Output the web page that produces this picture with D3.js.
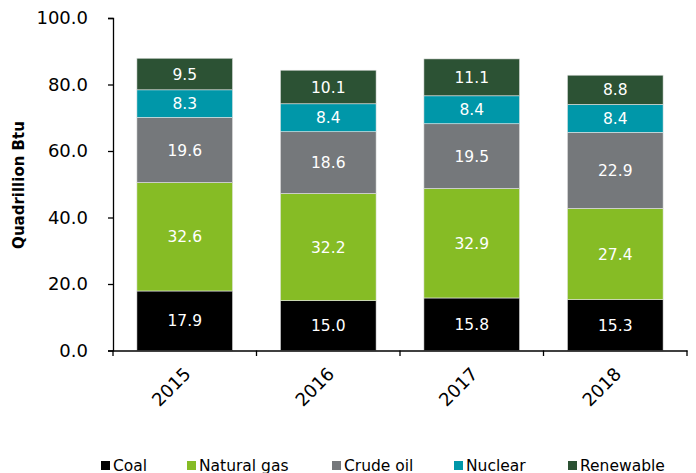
<!DOCTYPE html>
<html><head><meta charset="utf-8">
<script src="https://cdn.jsdelivr.net/npm/d3@7"></script>
<style>body{margin:0;background:#fff;} svg{display:block;font-family:"DejaVu Sans",Verdana,sans-serif;}</style>
</head><body>
<script>
const years = ["2015","2016","2017","2018"];
const seriesNames = ["Coal","Natural gas","Crude oil","Nuclear","Renewable"];
const coal = [17.9,15.0,15.8,15.3];
const naturalGas = [32.6,32.2,32.9,27.4];
const crudeOil = [19.6,18.6,19.5,22.9];
const nuclear = [8.3,8.4,8.4,8.4];
const renewable = [9.5,10.1,11.1,8.8];
const yTicks = [0,20,40,60,80,100];
const colors = ["#000000","#86bc25","#75787b","#0097a9","#2c5234"];

const W=696,H=473;
const svg=d3.select("body").append("svg").attr("width",W).attr("height",H);
const x=d3.scaleBand().domain(years).range([113,687]).paddingInner(0.333).paddingOuter(0.1665);
const y=d3.scaleLinear().domain([0,100]).range([350.5,18]);

const table=years.map((yr,i)=>({year:yr,"Coal":coal[i],"Natural gas":naturalGas[i],"Crude oil":crudeOil[i],"Nuclear":nuclear[i],"Renewable":renewable[i]}));
const stacked=d3.stack().keys(seriesNames)(table);

const g=svg.append("g");
stacked.forEach((s,si)=>{
  const gg=g.append("g");
  gg.selectAll("rect").data(s).join("rect")
    .attr("x",d=>x(d.data.year)).attr("width",x.bandwidth())
    .attr("y",d=>y(d[1])).attr("height",d=>y(d[0])-y(d[1]))
    .attr("fill",colors[si]).attr("stroke","#e6e6e6").attr("stroke-width",0.6);
  gg.selectAll("text").data(s).join("text")
    .attr("x",d=>x(d.data.year)+x.bandwidth()/2)
    .attr("y",d=>(y(d[0])+y(d[1]))/2)
    .attr("dy","0.36em").attr("text-anchor","middle")
    .attr("fill","#fff").attr("font-size",15.5)
    .text(d=>(d[1]-d[0]).toFixed(1));
});

// y axis
const ya=svg.append("g").attr("transform","translate(113,0)")
  .call(d3.axisLeft(y).tickValues(yTicks).tickFormat(d=>d.toFixed(1)).tickSizeOuter(0).tickSize(5).tickPadding(20));
ya.select(".domain").attr("stroke","#000").attr("stroke-width",1.3);
ya.selectAll(".tick line").attr("stroke","#000").attr("stroke-width",1.3);
ya.selectAll(".tick text").attr("font-size",18).attr("fill","#000").attr("font-family","DejaVu Sans, Verdana, sans-serif");

// x axis
const xa=svg.append("g").attr("transform","translate(0,350.5)")
  .call(d3.axisBottom(x).tickSize(0).tickSizeOuter(0));
xa.select(".domain").attr("stroke","#000").attr("stroke-width",1.3);
xa.selectAll(".tick text").remove();
// x tick marks at band boundaries
const bounds=[x.range()[0]].concat(years.map(yr=>x(yr)+x.bandwidth()+(x.step()-x.bandwidth())/2));
svg.append("g").selectAll("line").data(bounds).join("line")
  .attr("x1",d=>d).attr("x2",d=>d).attr("y1",350.5).attr("y2",356)
  .attr("stroke","#000").attr("stroke-width",1.3);
svg.append("g").selectAll("text").data(years).join("text")
  .attr("transform",d=>`translate(${x(d)+x.bandwidth()/2-2},366) rotate(-45)`)
  .attr("text-anchor","end").attr("dy","0.72em").attr("font-size",18).attr("fill","#000")
  .text(d=>d);

// y title
svg.append("text").attr("transform","translate(19,185) rotate(-90)")
  .attr("text-anchor","middle").attr("dy","0.35em").attr("font-size",15).attr("font-weight","bold").text("Quadrillion Btu");

// legend
const legX=[101,187,332,454,568];
const leg=svg.append("g").selectAll("g").data(seriesNames).join("g")
  .attr("transform",(d,i)=>`translate(${legX[i]},461)`);
leg.append("rect").attr("width",9).attr("height",9).attr("fill",(d,i)=>colors[i]);
leg.append("text").attr("x",12).attr("y",10).attr("font-size",15.5).attr("fill","#000").text(d=>d);
</script>
</body></html>
